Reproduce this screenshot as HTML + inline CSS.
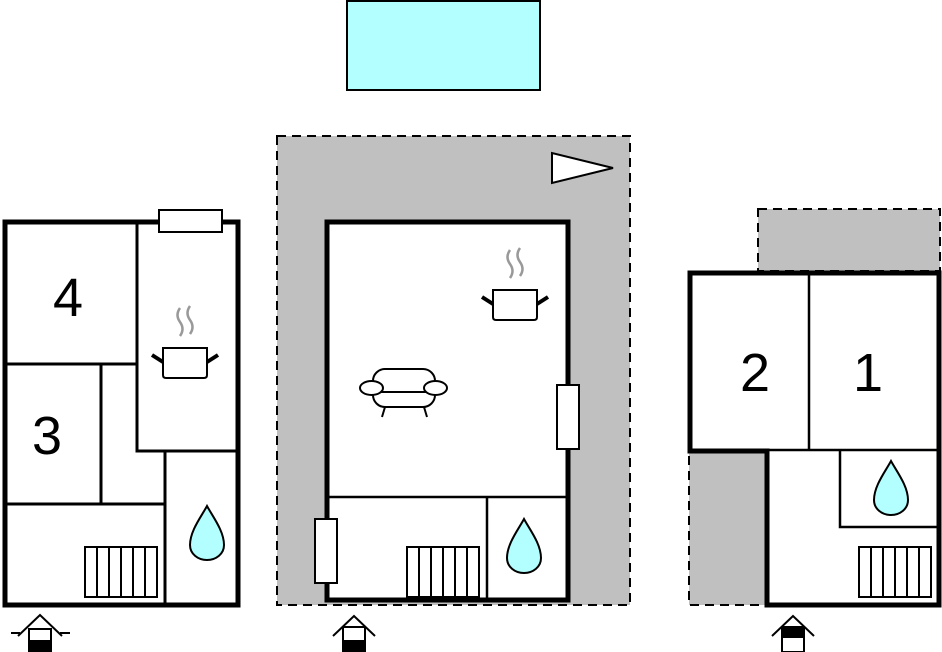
<!DOCTYPE html>
<html><head><style>html,body{margin:0;padding:0;background:#fff;width:942px;height:652px;overflow:hidden}svg{display:block}</style></head><body>
<svg width="942" height="652" viewBox="0 0 942 652" xmlns="http://www.w3.org/2000/svg">
<defs>
<g id="pot">
<path d="M180 308 q-5 7 0 14 q5 7 0 14 M190 306 q-5 7 0 14 q5 7 0 14" stroke="#999" stroke-width="2.5" fill="none"/>
<path d="M163 348 h44 v27 q0 3 -3 3 h-38 q-3 0 -3 -3 z" fill="#fff" stroke="#000" stroke-width="2"/>
<path d="M152 355 L163 362 M207 362 L218 355" stroke="#000" stroke-width="4"/>
</g>
<g id="rad">
<rect x="0" y="0" width="72" height="50" fill="#fff" stroke="#000" stroke-width="2"/>
<path d="M12 0v50M24 0v50M36 0v50M48 0v50M60 0v50" stroke="#000" stroke-width="2"/>
</g>
<g id="drop">
<path d="M0 -33 C-6 -22 -17 -8 -17 6 C-17 15 -9 21 0 21 C9 21 17 15 17 6 C17 -8 6 -22 0 -33 Z" fill="#b3ffff" stroke="#000" stroke-width="2"/>
</g>
</defs>

<rect x="347" y="1" width="193" height="89" fill="#b3ffff" stroke="#000" stroke-width="2"/>

<!-- LEFT -->
<rect x="5" y="222" width="233" height="383" fill="#fff" stroke="#000" stroke-width="5"/>
<rect x="159" y="210" width="63" height="22" fill="#fff" stroke="#000" stroke-width="2"/>
<path d="M137 222V451H238M5 364H137M101 364V504M5 504H165M165 451V605" stroke="#000" stroke-width="3" fill="none"/>
<text x="68" y="316" font-family="Liberation Sans, sans-serif" font-size="54" text-anchor="middle">4</text>
<text x="47" y="454" font-family="Liberation Sans, sans-serif" font-size="54" text-anchor="middle">3</text>
<use href="#pot"/>
<use href="#rad" x="85" y="547"/>
<use href="#drop" x="207" y="539"/>
<g stroke="#000" stroke-width="2" fill="none">
<path d="M11 633h9M60 633h10M18 636 L40 615 L62 636"/>
<rect x="29" y="629" width="22" height="23" fill="#fff"/>
</g>
<rect x="29" y="640" width="22" height="12" fill="#000"/>

<!-- MIDDLE -->
<rect x="277" y="136" width="353" height="469" fill="#c0c0c0" stroke="#000" stroke-width="2" stroke-dasharray="9,6"/>
<rect x="327" y="222" width="241" height="378" fill="#fff" stroke="#000" stroke-width="5"/>
<path d="M327 497H568M487 497V600" stroke="#000" stroke-width="2.5"/>
<polygon points="552,153 552,183 613,168" fill="#fff" stroke="#000" stroke-width="2"/>
<rect x="557" y="385" width="22" height="64" fill="#fff" stroke="#000" stroke-width="2"/>
<rect x="315" y="519" width="22" height="64" fill="#fff" stroke="#000" stroke-width="2"/>
<use href="#pot" x="330" y="-58"/>
<g stroke="#000" stroke-width="2" fill="#fff">
<rect x="373" y="369" width="62" height="38" rx="12"/>
<path d="M374 392 H434" fill="none"/>
<ellipse cx="371.5" cy="388" rx="11.5" ry="7"/>
<ellipse cx="435.5" cy="388" rx="11.5" ry="7"/>
<path d="M385 407 l-3 10 M424 407 l3 10" fill="none"/>
</g>
<use href="#rad" x="407" y="547"/>
<use href="#drop" x="524" y="552"/>
<g stroke="#000" stroke-width="2" fill="none">
<path d="M333 636 L354 616 L375 636"/>
<rect x="343" y="627" width="22" height="25" fill="#fff"/>
</g>
<rect x="343" y="640" width="22" height="12" fill="#000"/>

<!-- RIGHT -->
<rect x="758" y="209" width="182" height="62" fill="#c0c0c0" stroke="#000" stroke-width="2" stroke-dasharray="9,6"/>
<rect x="689" y="451" width="78" height="154" fill="#c0c0c0" stroke="#000" stroke-width="2" stroke-dasharray="9,6"/>
<path d="M690 273H939V605H767V451H690Z" fill="#fff" stroke="#000" stroke-width="5"/>
<path d="M809 273V450M767 450H939M840 450V527H939" stroke="#000" stroke-width="2.5" fill="none"/>
<text x="755" y="391" font-family="Liberation Sans, sans-serif" font-size="54" text-anchor="middle">2</text>
<text x="868" y="391" font-family="Liberation Sans, sans-serif" font-size="54" text-anchor="middle">1</text>
<use href="#drop" x="891" y="494"/>
<use href="#rad" x="859" y="547"/>
<g stroke="#000" stroke-width="2" fill="none">
<path d="M772 636 L793 616 L814 636"/>
<rect x="782" y="627" width="22" height="25" fill="#fff"/>
</g>
<rect x="782" y="627" width="22" height="11" fill="#000"/>
</svg>
</body></html>
